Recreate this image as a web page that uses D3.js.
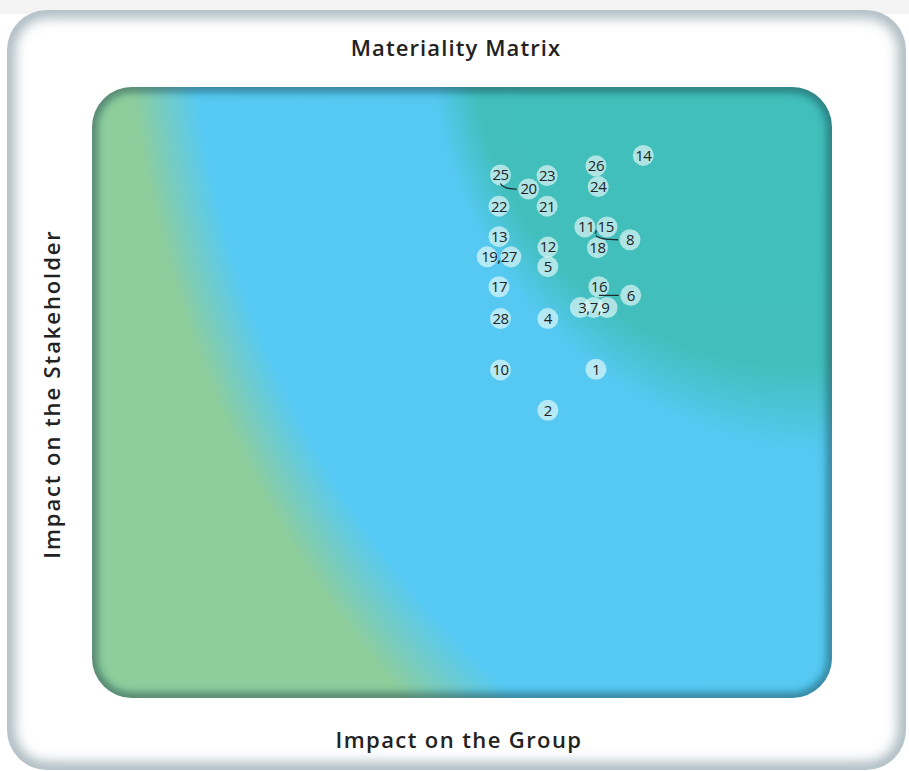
<!DOCTYPE html>
<html>
<head>
<meta charset="utf-8">
<script src="https://cdn.jsdelivr.net/npm/d3@7"></script>
<style>
  body { margin: 0; background: #fff; }
  svg { display: block; }
</style>
</head>
<body>
<div id="chart"></div>
<script>
const issueIds = [1, 2, 3, 4, 5, 6, 7, 8, 9, 10, 11, 12, 13, 14, 15, 16, 17, 18, 19, 20, 21, 22, 23, 24, 25, 26, 27, 28];
const impactOnGroup = [68.1, 61.6, 66.0, 61.6, 61.6, 72.8, 67.8, 72.7, 69.6, 55.2, 66.6, 61.6, 55.0, 74.5, 69.6, 68.5, 55.0, 68.3, 53.4, 59.0, 61.5, 55.0, 61.5, 68.4, 55.2, 68.1, 56.6, 55.2];
const impactOnStakeholder = [53.8, 47.1, 63.9, 62.1, 70.6, 65.9, 63.9, 75.0, 63.9, 53.7, 77.1, 73.8, 75.5, 88.8, 77.1, 67.3, 67.3, 73.7, 72.2, 83.3, 80.5, 80.5, 85.5, 83.7, 85.6, 87.1, 72.2, 62.1];
// issues that share one label
const sharedLabels = [[3, 7, 9], [11, 15], [19, 27]];
// leader lines: label (first issue of group) -> issue
const leaders = [[25, 20], [11, 8], [16, 6]];

const width = 909, height = 771;
const r = 10.5;

const svg = d3.select("#chart").append("svg")
  .attr("width", width)
  .attr("height", height);

const defs = svg.append("defs");

// frame + plot shapes
const frame = { x: 7, y: 10, w: 899, h: 760, rx: 40 };
const plot = { x0: 92, x1: 832, y0: 87, y1: 698, rx: 40 };

const x = d3.scaleLinear().domain([0, 100]).range([plot.x0, plot.x1]);
const y = d3.scaleLinear().domain([0, 100]).range([plot.y1, plot.y0]);

defs.append("clipPath").attr("id", "frameClip")
  .append("rect")
  .attr("x", frame.x).attr("y", frame.y).attr("width", frame.w).attr("height", frame.h)
  .attr("rx", frame.rx);

defs.append("clipPath").attr("id", "plotClip")
  .append("rect")
  .attr("x", plot.x0).attr("y", plot.y0)
  .attr("width", plot.x1 - plot.x0).attr("height", plot.y1 - plot.y0)
  .attr("rx", plot.rx);

defs.append("filter").attr("id", "soft")
  .attr("x", "-10%").attr("y", "-10%").attr("width", "120%").attr("height", "120%")
  .append("feGaussianBlur").attr("stdDeviation", 7);

defs.append("filter").attr("id", "softSmall")
  .attr("x", "-10%").attr("y", "-10%").attr("width", "120%").attr("height", "120%")
  .append("feGaussianBlur").attr("stdDeviation", 4);

// background gradient of the matrix: teal top-right -> blue -> green bottom-left
// (focal point off-centre so the rings flatten towards the bottom-left)
const grad = defs.append("radialGradient")
  .attr("id", "bg")
  .attr("gradientUnits", "userSpaceOnUse")
  .attr("cx", 1366).attr("cy", -69).attr("r", 1331)
  .attr("fx", 612).attr("fy", 82);
[
  [0, "#41bfba"],
  [0.24, "#42bfbc"],
  [0.315, "#55c9f2"],
  [0.73, "#56caf4"],
  [0.845, "#8ecd9c"],
  [1, "#8ecd9c"]
].forEach(s => grad.append("stop").attr("offset", s[0]).attr("stop-color", s[1]));

// page
svg.append("rect").attr("width", width).attr("height", height).attr("fill", "#fff");
svg.append("rect").attr("width", width).attr("height", 14).attr("fill", "#f3f3f3");

// outer frame
svg.append("rect")
  .attr("x", frame.x).attr("y", frame.y).attr("width", frame.w).attr("height", frame.h)
  .attr("rx", frame.rx)
  .attr("fill", "#fff");

svg.append("g").attr("clip-path", "url(#frameClip)")
  .append("rect")
  .attr("x", frame.x).attr("y", frame.y).attr("width", frame.w).attr("height", frame.h)
  .attr("rx", frame.rx)
  .attr("fill", "none")
  .attr("stroke", "#8ea2ab")
  .attr("stroke-width", 12)
  .attr("filter", "url(#soft)");

// matrix area
const plotG = svg.append("g").attr("clip-path", "url(#plotClip)");

plotG.append("rect")
  .attr("x", plot.x0).attr("y", plot.y0)
  .attr("width", plot.x1 - plot.x0).attr("height", plot.y1 - plot.y0)
  .attr("fill", "url(#bg)");

plotG.append("rect")
  .attr("x", plot.x0).attr("y", plot.y0)
  .attr("width", plot.x1 - plot.x0).attr("height", plot.y1 - plot.y0)
  .attr("rx", plot.rx)
  .attr("fill", "none")
  .attr("stroke", "rgba(20,60,70,0.6)")
  .attr("stroke-width", 9)
  .attr("filter", "url(#softSmall)");

// titles
const titleFont = "'Open Sans', 'DejaVu Sans', sans-serif";

svg.append("text")
  .attr("x", 456).attr("y", 56)
  .attr("text-anchor", "middle")
  .style("font-family", titleFont)
  .style("font-weight", 600)
  .style("font-size", "22px")
  .style("letter-spacing", "1.1px")
  .attr("fill", "#222")
  .text("Materiality Matrix");

svg.append("text")
  .attr("x", 459).attr("y", 748)
  .attr("text-anchor", "middle")
  .style("font-family", titleFont)
  .style("font-weight", 600)
  .style("font-size", "22px")
  .style("letter-spacing", "1.4px")
  .attr("fill", "#222")
  .text("Impact on the Group");

svg.append("text")
  .attr("transform", "translate(60,394) rotate(-90)")
  .attr("text-anchor", "middle")
  .style("font-family", titleFont)
  .style("font-weight", 600)
  .style("font-size", "22px")
  .style("letter-spacing", "1.9px")
  .attr("fill", "#222")
  .text("Impact on the Stakeholder");

// points
const issues = issueIds.map((id, i) => ({ id, gx: impactOnGroup[i], sy: impactOnStakeholder[i] }));
const byId = new Map(issues.map(d => [d.id, d]));

// labels: grouped issues get one label at their mean position
const grouped = new Set(sharedLabels.flat());
const labels = issues.filter(d => !grouped.has(d.id))
  .map(d => ({ key: d.id, text: String(d.id), gx: d.gx, sy: d.sy }))
  .concat(sharedLabels.map(g => ({
    key: g[0],
    text: g.join(","),
    gx: d3.mean(g, id => byId.get(id).gx),
    sy: d3.mean(g, id => byId.get(id).sy)
  })));
const labelById = new Map(labels.map(l => [l.key, l]));

const pointsG = svg.append("g");

pointsG.selectAll("circle")
  .data(issues)
  .join("circle")
  .attr("cx", d => x(d.gx))
  .attr("cy", d => y(d.sy))
  .attr("r", r)
  .attr("fill", "#e2f7f8")
  .attr("fill-opacity", 0.68);

// leader lines
pointsG.selectAll("path.leader")
  .data(leaders)
  .join("path")
  .attr("class", "leader")
  .attr("fill", "none")
  .attr("stroke", "#1e2a2e")
  .attr("stroke-width", 1.3)
  .attr("d", ([from, to]) => {
    const l = labelById.get(from);
    const t = byId.get(to);
    const sx = x(l.gx), sy = y(l.sy) + 8.5;
    const ex = x(t.gx) - r - 1.5, ey = y(t.sy);
    return `M${sx},${sy} Q${sx + 3},${ey} ${ex},${ey}`;
  });

pointsG.selectAll("text")
  .data(labels)
  .join("text")
  .attr("x", d => x(d.gx))
  .attr("y", d => y(d.sy))
  .attr("dy", "0.36em")
  .attr("text-anchor", "middle")
  .style("font-family", "'Open Sans', 'Liberation Sans', sans-serif")
  .style("font-size", "15px")
  .style("letter-spacing", "-0.5px")
  .attr("fill", "#1f2326")
  .text(d => d.text);
</script>
</body>
</html>
